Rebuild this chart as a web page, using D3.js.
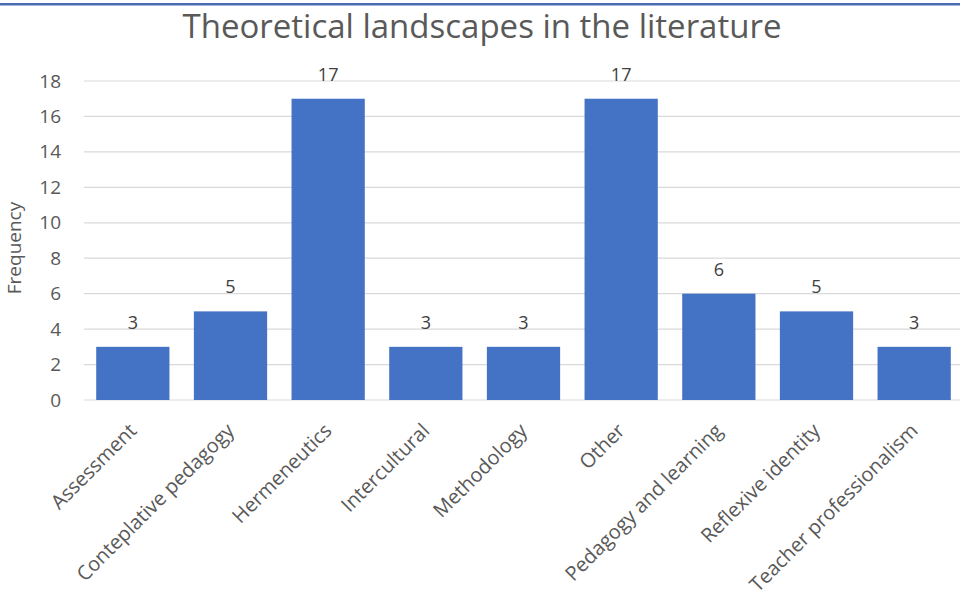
<!DOCTYPE html>
<html>
<head>
<meta charset="utf-8">
<script src="https://cdn.jsdelivr.net/npm/d3@7/dist/d3.min.js"></script>
<style>
  html, body { margin: 0; padding: 0; background: #fff; }
  svg { display: block; font-family: "Open Sans", "Noto Sans", sans-serif; }
</style>
</head>
<body>
<svg id="chart" width="960" height="598"></svg>
<script>
const categories = [
  "Assessment", "Conteplative pedagogy", "Hermeneutics", "Intercultural",
  "Methodology", "Other", "Pedagogy and learning", "Reflexive identity",
  "Teacher professionalism"
];
const frequencies = [3, 5, 17, 3, 3, 17, 6, 5, 3];
const yTicks = [0, 2, 4, 6, 8, 10, 12, 14, 16, 18];
const titleText = "Theoretical landscapes in the literature";
const yAxisTitle = "Frequency";

const svg = d3.select("#chart");
const W = 960, H = 598;

// frame rule along the top
svg.append("rect").attr("x", 0).attr("y", 3).attr("width", W).attr("height", 2.5)
  .attr("fill", "#4a6cb2");

const plot = { left: 84, right: 963, top: 81, bottom: 400 };

const x = d3.scaleBand().domain(categories)
  .range([plot.left, plot.right]).paddingInner(0.25).paddingOuter(0.125);
const y = d3.scaleLinear().domain([0, 18]).range([plot.bottom, plot.top]);

// gridlines
svg.append("g")
  .selectAll("line").data(yTicks).join("line")
  .attr("x1", plot.left).attr("x2", W)
  .attr("y1", d => y(d)).attr("y2", d => y(d))
  .attr("stroke", "#d9d9d9").attr("stroke-width", 1.2);

// y tick labels
const yAxis = d3.axisLeft(y).tickValues(yTicks).tickSize(0).tickPadding(0);
const gy = svg.append("g").attr("transform", `translate(${plot.left - 23},0)`).call(yAxis);
gy.select(".domain").remove();
gy.selectAll("text").attr("font-size", 19).attr("fill", "#595959")
  .attr("font-family", "'Open Sans', sans-serif");

// bars
svg.append("g").selectAll("rect").data(categories).join("rect")
  .attr("x", d => x(d)).attr("width", x.bandwidth())
  .attr("y", (d, i) => y(frequencies[i]))
  .attr("height", (d, i) => y(0) - y(frequencies[i]))
  .attr("fill", "#4472c4");

// value labels
svg.append("g").selectAll("text").data(categories).join("text")
  .attr("x", d => x(d) + x.bandwidth() / 2)
  .attr("y", (d, i) => y(frequencies[i]) - 18)
  .attr("text-anchor", "middle")
  .attr("font-size", 18).attr("fill", "#404040")
  .text((d, i) => frequencies[i]);

// category labels, rotated
const xAxis = d3.axisBottom(x).tickSize(0).tickPadding(0);
const gx = svg.append("g").attr("transform", `translate(0,${plot.bottom})`).call(xAxis);
gx.select(".domain").remove();
gx.selectAll("text")
  .attr("font-size", 20).attr("fill", "#595959")
  .attr("font-family", "'Open Sans', sans-serif")
  .attr("text-anchor", "end")
  .attr("dy", "0.35em")
  .attr("transform", "translate(0,27) rotate(-45)");

// y-axis title
svg.append("text")
  .attr("transform", "translate(21,248) rotate(-90)")
  .attr("text-anchor", "middle")
  .attr("font-size", 19).attr("fill", "#595959")
  .text(yAxisTitle);

// chart title
svg.append("text")
  .attr("x", 482).attr("y", 38)
  .attr("text-anchor", "middle")
  .attr("font-size", 33).attr("fill", "#595959")
  .text(titleText);
</script>
</body>
</html>
